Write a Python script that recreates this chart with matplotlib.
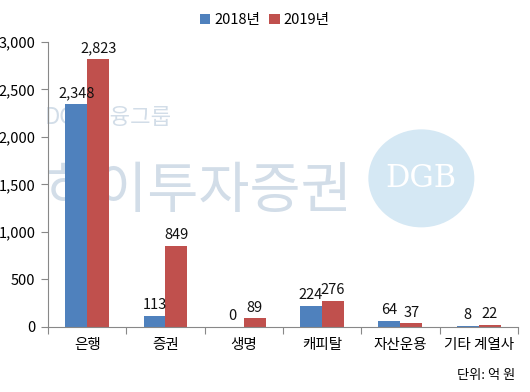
import matplotlib
matplotlib.use("Agg")
import matplotlib.pyplot as plt
from matplotlib.patches import Ellipse
import numpy as np

plt.rcParams['font.family'] = ['Noto Sans CJK KR', 'DejaVu Sans']

categories = ['은행', '증권', '생명', '캐피탈', '자산운용', '기타 계열사']
v2018 = [2348, 113, 0, 224, 64, 8]
v2019 = [2823, 849, 89, 276, 37, 22]
yticks = [0, 500, 1000, 1500, 2000, 2500, 3000]
series_names = ['2018년', '2019년']

blue = '#4F81BD'
red = '#C0504D'

fig = plt.figure(figsize=(5.30, 3.92), dpi=100)
ax = fig.add_axes([0.0906, 0.166, 0.8864, 0.727])
ax.patch.set_alpha(0)

# watermark (drawn beneath the bars)
wm = '#d2dde8'
ax.text(0.085, 0.70, 'DGB금융그룹', transform=fig.transFigure, fontsize=16,
        color=wm, va='center', ha='left', zorder=1, clip_on=False)
ax.text(0.085, 0.51, '하이투자증권', transform=fig.transFigure, fontsize=40,
        color=wm, va='center', ha='left', zorder=1, clip_on=False)
ell = Ellipse((0.795, 0.545), 0.20, 0.25, transform=fig.transFigure,
              facecolor='#d5e8f4', edgecolor='none', zorder=1, clip_on=False)
ax.add_patch(ell)
ax.text(0.795, 0.545, 'DGB', transform=fig.transFigure, fontsize=22, color='#ffffff',
        ha='center', va='center', family='DejaVu Serif', zorder=1, clip_on=False)

x = np.arange(len(categories))
w = 0.28
b1 = ax.bar(x - w/2, v2018, w, color=blue, label=series_names[0], zorder=2)
b2 = ax.bar(x + w/2, v2019, w, color=red, label=series_names[1], zorder=2)

for rect, v in zip(b1, v2018):
    ax.text(rect.get_x() + rect.get_width()/2, v + 40, f'{v:,}', ha='center', va='bottom',
            fontsize=10.5, color='#111111', zorder=3)
for rect, v in zip(b2, v2019):
    ax.text(rect.get_x() + rect.get_width()/2, v + 40, f'{v:,}', ha='center', va='bottom',
            fontsize=10.5, color='#111111', zorder=3)

ax.set_xlim(-0.5, len(categories) - 0.5)
ax.set_ylim(0, 3000)
ax.set_yticks(yticks)
ax.set_yticklabels([f'{t:,}' for t in yticks], fontsize=10.5)
ax.set_xticks(np.arange(-0.5, len(categories), 1.0))
ax.set_xticklabels([])
ax.set_xticks(x, minor=True)
ax.set_xticklabels(categories, minor=True, fontsize=10.5)
ax.tick_params(axis='x', which='minor', length=0, pad=8)
ax.tick_params(axis='x', which='major', length=5, color='#888888', direction='out')
ax.tick_params(axis='y', length=5, color='#888888', direction='out', pad=4)

for s in ['top', 'right']:
    ax.spines[s].set_visible(False)
for s in ['left', 'bottom']:
    ax.spines[s].set_color('#888888')
    ax.spines[s].set_zorder(4)

fig.legend(handles=[b1, b2], loc='upper center', bbox_to_anchor=(0.5, 1.0), ncol=2,
           frameon=False, fontsize=10.5, handlelength=0.7, handleheight=0.7,
           handletextpad=0.3, columnspacing=0.6)

fig.text(0.972, 0.025, '단위: 억 원', ha='right', va='bottom', fontsize=9.5)

fig.savefig('out.png', dpi=100)
